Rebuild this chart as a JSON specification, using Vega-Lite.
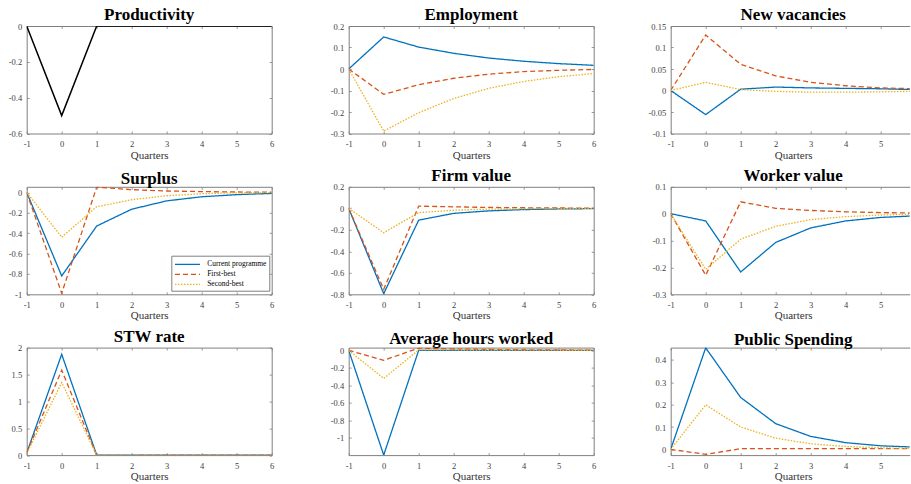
{
  "$schema": "https://vega.github.io/schema/vega-lite/v6.json",
  "padding": {"left": 7.7, "top": 6, "right": 0, "bottom": 0},
  "columns": 3,
  "spacing": {"row": 52.8, "column": 77},
  "bounds": "flush",
  "config": {
    "font": "Liberation Serif",
    "view": {"stroke": null},
    "axis": {
      "grid": false, "labelFlush": false, "labelOverlap": false,
      "domainColor": "#808080", "tickColor": "#808080", "tickSize": -2.5, "tickWidth": 0.8, "domainWidth": 1,
      "labelFont": "Liberation Serif", "labelFontSize": 8.5, "labelColor": "#404040",
      "titleFont": "Liberation Serif", "titleFontSize": 11, "titleFontWeight": "normal", "titleColor": "#333333"
    },
    "axisX": {"labelPadding": 8.5, "titleY": 24.5, "titleBaseline": "alphabetic", "titleX": 122.5},
    "axisY": {"labelPadding": 7.5},
    "title": {"font": "Liberation Serif", "fontSize": 17, "fontWeight": "bold", "color": "#000000", "baseline": "alphabetic", "offset": -2, "frame": "group", "anchor": "middle"}
  },
  "datasets": {
    "prod": [
      {"q": -1, "v": 0}, {"q": 0, "v": -0.5}, {"q": 1, "v": 0}, {"q": 2, "v": 0},
      {"q": 3, "v": 0}, {"q": 4, "v": 0}, {"q": 5, "v": 0}, {"q": 6, "v": 0}
    ],
    "irf": [
      {"p": "Employment", "q": -1, "Current programme": 0, "First-best": 0, "Second-best": 0},
      {"p": "Employment", "q": 0, "Current programme": 0.149, "First-best": -0.118, "Second-best": -0.289},
      {"p": "Employment", "q": 1, "Current programme": 0.102, "First-best": -0.073, "Second-best": -0.203},
      {"p": "Employment", "q": 2, "Current programme": 0.073, "First-best": -0.043, "Second-best": -0.137},
      {"p": "Employment", "q": 3, "Current programme": 0.051, "First-best": -0.024, "Second-best": -0.09},
      {"p": "Employment", "q": 4, "Current programme": 0.036, "First-best": -0.012, "Second-best": -0.058},
      {"p": "Employment", "q": 5, "Current programme": 0.025, "First-best": -0.006, "Second-best": -0.036},
      {"p": "Employment", "q": 6, "Current programme": 0.017, "First-best": -0.002, "Second-best": -0.021},

      {"p": "New vacancies", "q": -1, "Current programme": 0, "First-best": 0, "Second-best": 0},
      {"p": "New vacancies", "q": 0, "Current programme": -0.056, "First-best": 0.129, "Second-best": 0.019},
      {"p": "New vacancies", "q": 1, "Current programme": 0.003, "First-best": 0.061, "Second-best": 0.002},
      {"p": "New vacancies", "q": 2, "Current programme": 0.008, "First-best": 0.034, "Second-best": -0.002},
      {"p": "New vacancies", "q": 3, "Current programme": 0.006, "First-best": 0.019, "Second-best": -0.004},
      {"p": "New vacancies", "q": 4, "Current programme": 0.005, "First-best": 0.011, "Second-best": -0.004},
      {"p": "New vacancies", "q": 5, "Current programme": 0.004, "First-best": 0.006, "Second-best": -0.003},
      {"p": "New vacancies", "q": 6, "Current programme": 0.002, "First-best": 0.004, "Second-best": -0.002},

      {"p": "Surplus", "q": -1, "Current programme": 0, "First-best": 0, "Second-best": 0},
      {"p": "Surplus", "q": 0, "Current programme": -0.82, "First-best": -0.99, "Second-best": -0.44},
      {"p": "Surplus", "q": 1, "Current programme": -0.33, "First-best": 0.052, "Second-best": -0.141},
      {"p": "Surplus", "q": 2, "Current programme": -0.165, "First-best": 0.027, "Second-best": -0.072},
      {"p": "Surplus", "q": 3, "Current programme": -0.083, "First-best": 0.014, "Second-best": -0.033},
      {"p": "Surplus", "q": 4, "Current programme": -0.043, "First-best": 0.008, "Second-best": -0.013},
      {"p": "Surplus", "q": 5, "Current programme": -0.022, "First-best": 0.004, "Second-best": -0.004},
      {"p": "Surplus", "q": 6, "Current programme": -0.01, "First-best": 0.002, "Second-best": -0.001},

      {"p": "Firm value", "q": -1, "Current programme": 0, "First-best": 0, "Second-best": 0},
      {"p": "Firm value", "q": 0, "Current programme": -0.794, "First-best": -0.754, "Second-best": -0.228},
      {"p": "Firm value", "q": 1, "Current programme": -0.11, "First-best": 0.02, "Second-best": -0.04},
      {"p": "Firm value", "q": 2, "Current programme": -0.047, "First-best": 0.014, "Second-best": -0.018},
      {"p": "Firm value", "q": 3, "Current programme": -0.024, "First-best": 0.008, "Second-best": -0.008},
      {"p": "Firm value", "q": 4, "Current programme": -0.012, "First-best": 0.005, "Second-best": -0.004},
      {"p": "Firm value", "q": 5, "Current programme": -0.006, "First-best": 0.003, "Second-best": -0.002},
      {"p": "Firm value", "q": 6, "Current programme": -0.003, "First-best": 0.001, "Second-best": -0.001},

      {"p": "Worker value", "q": -1, "Current programme": 0, "First-best": 0, "Second-best": 0},
      {"p": "Worker value", "q": 0, "Current programme": -0.027, "First-best": -0.229, "Second-best": -0.207},
      {"p": "Worker value", "q": 1, "Current programme": -0.217, "First-best": 0.044, "Second-best": -0.095},
      {"p": "Worker value", "q": 2, "Current programme": -0.107, "First-best": 0.02, "Second-best": -0.047},
      {"p": "Worker value", "q": 3, "Current programme": -0.053, "First-best": 0.012, "Second-best": -0.022},
      {"p": "Worker value", "q": 4, "Current programme": -0.027, "First-best": 0.007, "Second-best": -0.011},
      {"p": "Worker value", "q": 5, "Current programme": -0.014, "First-best": 0.004, "Second-best": -0.005},
      {"p": "Worker value", "q": 6, "Current programme": -0.008, "First-best": 0.002, "Second-best": -0.002},

      {"p": "STW rate", "q": -1, "Current programme": 0.04, "First-best": 0.04, "Second-best": 0.03},
      {"p": "STW rate", "q": 0, "Current programme": 1.875, "First-best": 1.58, "Second-best": 1.35},
      {"p": "STW rate", "q": 1, "Current programme": 0, "First-best": -0.005, "Second-best": 0},
      {"p": "STW rate", "q": 2, "Current programme": 0, "First-best": -0.004, "Second-best": 0},
      {"p": "STW rate", "q": 3, "Current programme": 0, "First-best": 0, "Second-best": 0},
      {"p": "STW rate", "q": 4, "Current programme": 0, "First-best": 0, "Second-best": 0},
      {"p": "STW rate", "q": 5, "Current programme": 0, "First-best": 0, "Second-best": 0},
      {"p": "STW rate", "q": 6, "Current programme": 0, "First-best": 0, "Second-best": 0},

      {"p": "Average hours worked", "q": -1, "Current programme": 0, "First-best": 0, "Second-best": 0},
      {"p": "Average hours worked", "q": 0, "Current programme": -1.195, "First-best": -0.114, "Second-best": -0.32},
      {"p": "Average hours worked", "q": 1, "Current programme": 0, "First-best": 0.025, "Second-best": 0.005},
      {"p": "Average hours worked", "q": 2, "Current programme": 0, "First-best": 0.015, "Second-best": 0.004},
      {"p": "Average hours worked", "q": 3, "Current programme": 0, "First-best": 0.01, "Second-best": 0.003},
      {"p": "Average hours worked", "q": 4, "Current programme": 0, "First-best": 0.006, "Second-best": 0.002},
      {"p": "Average hours worked", "q": 5, "Current programme": 0, "First-best": 0.004, "Second-best": 0.001},
      {"p": "Average hours worked", "q": 6, "Current programme": 0, "First-best": 0.002, "Second-best": 0.001},

      {"p": "Public Spending", "q": -1, "Current programme": 0, "First-best": 0, "Second-best": 0},
      {"p": "Public Spending", "q": 0, "Current programme": 0.454, "First-best": -0.022, "Second-best": 0.199},
      {"p": "Public Spending", "q": 1, "Current programme": 0.232, "First-best": 0.003, "Second-best": 0.1},
      {"p": "Public Spending", "q": 2, "Current programme": 0.115, "First-best": 0.003, "Second-best": 0.05},
      {"p": "Public Spending", "q": 3, "Current programme": 0.058, "First-best": 0.003, "Second-best": 0.025},
      {"p": "Public Spending", "q": 4, "Current programme": 0.03, "First-best": 0.003, "Second-best": 0.013},
      {"p": "Public Spending", "q": 5, "Current programme": 0.016, "First-best": 0.003, "Second-best": 0.007},
      {"p": "Public Spending", "q": 6, "Current programme": 0.01, "First-best": 0.003, "Second-best": 0.004}
    ]
  },
  "concat": [
    {
      "width": 245, "height": 107.5,
      "title": "Productivity",
      "data": {"name": "prod"},
      "layer": [
        {"mark": {"type": "line", "clip": true, "strokeWidth": 1.5, "color": "#000000"},
         "encoding": {
           "x": {"field": "q", "type": "quantitative", "scale": {"domain": [-1, 6], "nice": false, "zero": false}, "axis": {"values": [-1, 0, 1, 2, 3, 4, 5, 6], "title": "Quarters", "labelExpr": "toString(datum.value)"}},
           "y": {"field": "v", "type": "quantitative", "scale": {"domain": [-0.6, 0], "nice": false, "zero": false}, "axis": {"values": [-0.6, -0.4, -0.2, 0], "title": null, "labelExpr": "toString(datum.value)"}}
         }},
        {"mark": {"type": "line", "opacity": 0},
         "encoding": {
           "x": {"field": "q", "type": "quantitative", "axis": {"orient": "top", "values": [-1, 0, 1, 2, 3, 4, 5, 6], "labels": false, "title": null}},
           "y": {"field": "v", "type": "quantitative", "axis": {"orient": "right", "values": [-0.6, -0.4, -0.2, 0], "labels": false, "title": null}}
         }}
      ],
      "resolve": {"axis": {"x": "independent", "y": "independent"}}
    },
    {
      "width": 245, "height": 107.5,
      "title": "Employment",
      "data": {"name": "irf"},
      "transform": [{"filter": "datum.p == 'Employment'"}, {"fold": ["Current programme", "First-best", "Second-best"], "as": ["series", "v"]}],
      "layer": [
        {"mark": {"type": "line", "clip": true, "strokeWidth": 1.3},
         "encoding": {
           "x": {"field": "q", "type": "quantitative", "scale": {"domain": [-1, 6], "nice": false, "zero": false}, "axis": {"values": [-1, 0, 1, 2, 3, 4, 5, 6], "title": "Quarters", "labelExpr": "toString(datum.value)"}},
           "y": {"field": "v", "type": "quantitative", "scale": {"domain": [-0.3, 0.2], "nice": false, "zero": false}, "axis": {"values": [-0.3, -0.2, -0.1, 0, 0.1, 0.2], "title": null, "labelExpr": "toString(datum.value)"}},
           "color": {"field": "series", "type": "nominal", "scale": {"domain": ["Current programme", "First-best", "Second-best"], "range": ["#0072BD", "#D95319", "#EDB120"]},
             "legend": {"title": null, "orient": "none", "legendX": 144.6, "legendY": 229.7, "symbolType": "M-2.5,0H2.5", "symbolSize": 100, "symbolOffset": 7.5, "symbolStrokeWidth": 1.3, "labelFont": "Liberation Serif", "labelFontSize": 7.5, "labelColor": "#000000", "strokeColor": "#808080", "fillColor": "#ffffff", "padding": 2.7, "rowPadding": -0.7, "labelOffset": 13.7}},
           "strokeDash": {"field": "series", "type": "nominal", "scale": {"domain": ["Current programme", "First-best", "Second-best"], "range": [[1, 0], [5, 3], [1.5, 1.5]]},
             "legend": {"title": null, "orient": "none", "legendX": 144.6, "legendY": 229.7, "symbolType": "M-2.5,0H2.5", "symbolSize": 100, "symbolOffset": 7.5, "symbolStrokeWidth": 1.3, "labelFont": "Liberation Serif", "labelFontSize": 7.5, "labelColor": "#000000", "strokeColor": "#808080", "fillColor": "#ffffff", "padding": 2.7, "rowPadding": -0.7, "labelOffset": 13.7}}
         }},
        {"mark": {"type": "line", "opacity": 0},
         "encoding": {
           "x": {"field": "q", "type": "quantitative", "axis": {"orient": "top", "values": [-1, 0, 1, 2, 3, 4, 5, 6], "labels": false, "title": null}},
           "y": {"field": "v", "type": "quantitative", "axis": {"orient": "right", "values": [-0.3, -0.2, -0.1, 0, 0.1, 0.2], "labels": false, "title": null}}
         }}
      ],
      "resolve": {"axis": {"x": "independent", "y": "independent"}}
    },
    {
      "width": 239, "height": 107.5,
      "title": {"text": "New vacancies", "dx": 3},
      "data": {"name": "irf"},
      "transform": [{"filter": "datum.p == 'New vacancies'"}, {"fold": ["Current programme", "First-best", "Second-best"], "as": ["series", "v"]}],
      "layer": [
        {"mark": {"type": "line", "clip": true, "strokeWidth": 1.3},
         "encoding": {
           "x": {"field": "q", "type": "quantitative", "scale": {"domain": [-1, 5.8286], "nice": false, "zero": false}, "axis": {"values": [-1, 0, 1, 2, 3, 4, 5], "title": "Quarters", "labelExpr": "toString(datum.value)"}},
           "y": {"field": "v", "type": "quantitative", "scale": {"domain": [-0.1, 0.15], "nice": false, "zero": false}, "axis": {"values": [-0.1, -0.05, 0, 0.05, 0.1, 0.15], "title": null, "labelExpr": "toString(datum.value)"}},
           "color": {"field": "series", "type": "nominal", "scale": {"domain": ["Current programme", "First-best", "Second-best"], "range": ["#0072BD", "#D95319", "#EDB120"]},
             "legend": {"title": null, "orient": "none", "legendX": 144.6, "legendY": 229.7, "symbolType": "M-2.5,0H2.5", "symbolSize": 100, "symbolOffset": 7.5, "symbolStrokeWidth": 1.3, "labelFont": "Liberation Serif", "labelFontSize": 7.5, "labelColor": "#000000", "strokeColor": "#808080", "fillColor": "#ffffff", "padding": 2.7, "rowPadding": -0.7, "labelOffset": 13.7}},
           "strokeDash": {"field": "series", "type": "nominal", "scale": {"domain": ["Current programme", "First-best", "Second-best"], "range": [[1, 0], [5, 3], [1.5, 1.5]]},
             "legend": {"title": null, "orient": "none", "legendX": 144.6, "legendY": 229.7, "symbolType": "M-2.5,0H2.5", "symbolSize": 100, "symbolOffset": 7.5, "symbolStrokeWidth": 1.3, "labelFont": "Liberation Serif", "labelFontSize": 7.5, "labelColor": "#000000", "strokeColor": "#808080", "fillColor": "#ffffff", "padding": 2.7, "rowPadding": -0.7, "labelOffset": 13.7}}
         }},
        {"mark": {"type": "line", "opacity": 0},
         "encoding": {
           "x": {"field": "q", "type": "quantitative", "axis": {"orient": "top", "values": [-1, 0, 1, 2, 3, 4, 5], "labels": false, "title": null}},
           "y": {"field": "v", "type": "quantitative", "axis": null}
         }}
      ],
      "resolve": {"axis": {"x": "independent", "y": "independent"}}
    },
    {
      "width": 245, "height": 107.5,
      "title": "Surplus",
      "data": {"name": "irf"},
      "transform": [{"filter": "datum.p == 'Surplus'"}, {"fold": ["Current programme", "First-best", "Second-best"], "as": ["series", "v"]}],
      "layer": [
        {"mark": {"type": "line", "clip": true, "strokeWidth": 1.3},
         "encoding": {
           "x": {"field": "q", "type": "quantitative", "scale": {"domain": [-1, 6], "nice": false, "zero": false}, "axis": {"values": [-1, 0, 1, 2, 3, 4, 5, 6], "title": "Quarters", "labelExpr": "toString(datum.value)"}},
           "y": {"field": "v", "type": "quantitative", "scale": {"domain": [-1, 0.055], "nice": false, "zero": false}, "axis": {"values": [-1, -0.8, -0.6, -0.4, -0.2, 0], "title": null, "labelExpr": "toString(datum.value)"}},
           "color": {"field": "series", "type": "nominal", "scale": {"domain": ["Current programme", "First-best", "Second-best"], "range": ["#0072BD", "#D95319", "#EDB120"]},
             "legend": {"title": null, "orient": "none", "legendX": 144.6, "legendY": 229.7, "symbolType": "M-2.5,0H2.5", "symbolSize": 100, "symbolOffset": 7.5, "symbolStrokeWidth": 1.3, "labelFont": "Liberation Serif", "labelFontSize": 7.5, "labelColor": "#000000", "strokeColor": "#808080", "fillColor": "#ffffff", "padding": 2.7, "rowPadding": -0.7, "labelOffset": 13.7}},
           "strokeDash": {"field": "series", "type": "nominal", "scale": {"domain": ["Current programme", "First-best", "Second-best"], "range": [[1, 0], [5, 3], [1.5, 1.5]]},
             "legend": {"title": null, "orient": "none", "legendX": 144.6, "legendY": 229.7, "symbolType": "M-2.5,0H2.5", "symbolSize": 100, "symbolOffset": 7.5, "symbolStrokeWidth": 1.3, "labelFont": "Liberation Serif", "labelFontSize": 7.5, "labelColor": "#000000", "strokeColor": "#808080", "fillColor": "#ffffff", "padding": 2.7, "rowPadding": -0.7, "labelOffset": 13.7}}
         }},
        {"mark": {"type": "line", "opacity": 0},
         "encoding": {
           "x": {"field": "q", "type": "quantitative", "axis": {"orient": "top", "values": [-1, 0, 1, 2, 3, 4, 5, 6], "labels": false, "title": null}},
           "y": {"field": "v", "type": "quantitative", "axis": {"orient": "right", "values": [-1, -0.8, -0.6, -0.4, -0.2, 0], "labels": false, "title": null}}
         }}
      ],
      "resolve": {"axis": {"x": "independent", "y": "independent"}}
    },
    {
      "width": 245, "height": 107.5,
      "title": "Firm value",
      "data": {"name": "irf"},
      "transform": [{"filter": "datum.p == 'Firm value'"}, {"fold": ["Current programme", "First-best", "Second-best"], "as": ["series", "v"]}],
      "layer": [
        {"mark": {"type": "line", "clip": true, "strokeWidth": 1.3},
         "encoding": {
           "x": {"field": "q", "type": "quantitative", "scale": {"domain": [-1, 6], "nice": false, "zero": false}, "axis": {"values": [-1, 0, 1, 2, 3, 4, 5, 6], "title": "Quarters", "labelExpr": "toString(datum.value)"}},
           "y": {"field": "v", "type": "quantitative", "scale": {"domain": [-0.8, 0.2], "nice": false, "zero": false}, "axis": {"values": [-0.8, -0.6, -0.4, -0.2, 0, 0.2], "title": null, "labelExpr": "toString(datum.value)"}},
           "color": {"field": "series", "type": "nominal", "scale": {"domain": ["Current programme", "First-best", "Second-best"], "range": ["#0072BD", "#D95319", "#EDB120"]},
             "legend": {"title": null, "orient": "none", "legendX": 144.6, "legendY": 229.7, "symbolType": "M-2.5,0H2.5", "symbolSize": 100, "symbolOffset": 7.5, "symbolStrokeWidth": 1.3, "labelFont": "Liberation Serif", "labelFontSize": 7.5, "labelColor": "#000000", "strokeColor": "#808080", "fillColor": "#ffffff", "padding": 2.7, "rowPadding": -0.7, "labelOffset": 13.7}},
           "strokeDash": {"field": "series", "type": "nominal", "scale": {"domain": ["Current programme", "First-best", "Second-best"], "range": [[1, 0], [5, 3], [1.5, 1.5]]},
             "legend": {"title": null, "orient": "none", "legendX": 144.6, "legendY": 229.7, "symbolType": "M-2.5,0H2.5", "symbolSize": 100, "symbolOffset": 7.5, "symbolStrokeWidth": 1.3, "labelFont": "Liberation Serif", "labelFontSize": 7.5, "labelColor": "#000000", "strokeColor": "#808080", "fillColor": "#ffffff", "padding": 2.7, "rowPadding": -0.7, "labelOffset": 13.7}}
         }},
        {"mark": {"type": "line", "opacity": 0},
         "encoding": {
           "x": {"field": "q", "type": "quantitative", "axis": {"orient": "top", "values": [-1, 0, 1, 2, 3, 4, 5, 6], "labels": false, "title": null}},
           "y": {"field": "v", "type": "quantitative", "axis": {"orient": "right", "values": [-0.8, -0.6, -0.4, -0.2, 0, 0.2], "labels": false, "title": null}}
         }}
      ],
      "resolve": {"axis": {"x": "independent", "y": "independent"}}
    },
    {
      "width": 239, "height": 107.5,
      "title": {"text": "Worker value", "dx": 3},
      "data": {"name": "irf"},
      "transform": [{"filter": "datum.p == 'Worker value'"}, {"fold": ["Current programme", "First-best", "Second-best"], "as": ["series", "v"]}],
      "layer": [
        {"mark": {"type": "line", "clip": true, "strokeWidth": 1.3},
         "encoding": {
           "x": {"field": "q", "type": "quantitative", "scale": {"domain": [-1, 5.8286], "nice": false, "zero": false}, "axis": {"values": [-1, 0, 1, 2, 3, 4, 5], "title": "Quarters", "labelExpr": "toString(datum.value)"}},
           "y": {"field": "v", "type": "quantitative", "scale": {"domain": [-0.3, 0.1], "nice": false, "zero": false}, "axis": {"values": [-0.3, -0.2, -0.1, 0, 0.1], "title": null, "labelExpr": "toString(datum.value)"}},
           "color": {"field": "series", "type": "nominal", "scale": {"domain": ["Current programme", "First-best", "Second-best"], "range": ["#0072BD", "#D95319", "#EDB120"]},
             "legend": {"title": null, "orient": "none", "legendX": 144.6, "legendY": 229.7, "symbolType": "M-2.5,0H2.5", "symbolSize": 100, "symbolOffset": 7.5, "symbolStrokeWidth": 1.3, "labelFont": "Liberation Serif", "labelFontSize": 7.5, "labelColor": "#000000", "strokeColor": "#808080", "fillColor": "#ffffff", "padding": 2.7, "rowPadding": -0.7, "labelOffset": 13.7}},
           "strokeDash": {"field": "series", "type": "nominal", "scale": {"domain": ["Current programme", "First-best", "Second-best"], "range": [[1, 0], [5, 3], [1.5, 1.5]]},
             "legend": {"title": null, "orient": "none", "legendX": 144.6, "legendY": 229.7, "symbolType": "M-2.5,0H2.5", "symbolSize": 100, "symbolOffset": 7.5, "symbolStrokeWidth": 1.3, "labelFont": "Liberation Serif", "labelFontSize": 7.5, "labelColor": "#000000", "strokeColor": "#808080", "fillColor": "#ffffff", "padding": 2.7, "rowPadding": -0.7, "labelOffset": 13.7}}
         }},
        {"mark": {"type": "line", "opacity": 0},
         "encoding": {
           "x": {"field": "q", "type": "quantitative", "axis": {"orient": "top", "values": [-1, 0, 1, 2, 3, 4, 5], "labels": false, "title": null}},
           "y": {"field": "v", "type": "quantitative", "axis": null}
         }}
      ],
      "resolve": {"axis": {"x": "independent", "y": "independent"}}
    },
    {
      "width": 245, "height": 107.5,
      "title": "STW rate",
      "data": {"name": "irf"},
      "transform": [{"filter": "datum.p == 'STW rate'"}, {"fold": ["Current programme", "First-best", "Second-best"], "as": ["series", "v"]}],
      "layer": [
        {"mark": {"type": "line", "clip": true, "strokeWidth": 1.3},
         "encoding": {
           "x": {"field": "q", "type": "quantitative", "scale": {"domain": [-1, 6], "nice": false, "zero": false}, "axis": {"values": [-1, 0, 1, 2, 3, 4, 5, 6], "title": "Quarters", "labelExpr": "toString(datum.value)"}},
           "y": {"field": "v", "type": "quantitative", "scale": {"domain": [0, 2], "nice": false, "zero": false}, "axis": {"values": [0, 0.5, 1, 1.5, 2], "title": null, "labelExpr": "toString(datum.value)"}},
           "color": {"field": "series", "type": "nominal", "scale": {"domain": ["Current programme", "First-best", "Second-best"], "range": ["#0072BD", "#D95319", "#EDB120"]},
             "legend": {"title": null, "orient": "none", "legendX": 144.6, "legendY": 229.7, "symbolType": "M-2.5,0H2.5", "symbolSize": 100, "symbolOffset": 7.5, "symbolStrokeWidth": 1.3, "labelFont": "Liberation Serif", "labelFontSize": 7.5, "labelColor": "#000000", "strokeColor": "#808080", "fillColor": "#ffffff", "padding": 2.7, "rowPadding": -0.7, "labelOffset": 13.7}},
           "strokeDash": {"field": "series", "type": "nominal", "scale": {"domain": ["Current programme", "First-best", "Second-best"], "range": [[1, 0], [5, 3], [1.5, 1.5]]},
             "legend": {"title": null, "orient": "none", "legendX": 144.6, "legendY": 229.7, "symbolType": "M-2.5,0H2.5", "symbolSize": 100, "symbolOffset": 7.5, "symbolStrokeWidth": 1.3, "labelFont": "Liberation Serif", "labelFontSize": 7.5, "labelColor": "#000000", "strokeColor": "#808080", "fillColor": "#ffffff", "padding": 2.7, "rowPadding": -0.7, "labelOffset": 13.7}}
         }},
        {"mark": {"type": "line", "opacity": 0},
         "encoding": {
           "x": {"field": "q", "type": "quantitative", "axis": {"orient": "top", "values": [-1, 0, 1, 2, 3, 4, 5, 6], "labels": false, "title": null}},
           "y": {"field": "v", "type": "quantitative", "axis": {"orient": "right", "values": [0, 0.5, 1, 1.5, 2], "labels": false, "title": null}}
         }}
      ],
      "resolve": {"axis": {"x": "independent", "y": "independent"}}
    },
    {
      "width": 245, "height": 107.5,
      "title": "Average hours worked",
      "data": {"name": "irf"},
      "transform": [{"filter": "datum.p == 'Average hours worked'"}, {"fold": ["Current programme", "First-best", "Second-best"], "as": ["series", "v"]}],
      "layer": [
        {"mark": {"type": "line", "clip": true, "strokeWidth": 1.3},
         "encoding": {
           "x": {"field": "q", "type": "quantitative", "scale": {"domain": [-1, 6], "nice": false, "zero": false}, "axis": {"values": [-1, 0, 1, 2, 3, 4, 5, 6], "title": "Quarters", "labelExpr": "toString(datum.value)"}},
           "y": {"field": "v", "type": "quantitative", "scale": {"domain": [-1.195, 0.031], "nice": false, "zero": false}, "axis": {"values": [-1, -0.8, -0.6, -0.4, -0.2, 0], "title": null, "labelExpr": "toString(datum.value)"}},
           "color": {"field": "series", "type": "nominal", "scale": {"domain": ["Current programme", "First-best", "Second-best"], "range": ["#0072BD", "#D95319", "#EDB120"]},
             "legend": {"title": null, "orient": "none", "legendX": 144.6, "legendY": 229.7, "symbolType": "M-2.5,0H2.5", "symbolSize": 100, "symbolOffset": 7.5, "symbolStrokeWidth": 1.3, "labelFont": "Liberation Serif", "labelFontSize": 7.5, "labelColor": "#000000", "strokeColor": "#808080", "fillColor": "#ffffff", "padding": 2.7, "rowPadding": -0.7, "labelOffset": 13.7}},
           "strokeDash": {"field": "series", "type": "nominal", "scale": {"domain": ["Current programme", "First-best", "Second-best"], "range": [[1, 0], [5, 3], [1.5, 1.5]]},
             "legend": {"title": null, "orient": "none", "legendX": 144.6, "legendY": 229.7, "symbolType": "M-2.5,0H2.5", "symbolSize": 100, "symbolOffset": 7.5, "symbolStrokeWidth": 1.3, "labelFont": "Liberation Serif", "labelFontSize": 7.5, "labelColor": "#000000", "strokeColor": "#808080", "fillColor": "#ffffff", "padding": 2.7, "rowPadding": -0.7, "labelOffset": 13.7}}
         }},
        {"mark": {"type": "line", "opacity": 0},
         "encoding": {
           "x": {"field": "q", "type": "quantitative", "axis": {"orient": "top", "values": [-1, 0, 1, 2, 3, 4, 5, 6], "labels": false, "title": null}},
           "y": {"field": "v", "type": "quantitative", "axis": {"orient": "right", "values": [-1, -0.8, -0.6, -0.4, -0.2, 0], "labels": false, "title": null}}
         }}
      ],
      "resolve": {"axis": {"x": "independent", "y": "independent"}}
    },
    {
      "width": 239, "height": 107.5,
      "title": {"text": "Public Spending", "dx": 3},
      "data": {"name": "irf"},
      "transform": [{"filter": "datum.p == 'Public Spending'"}, {"fold": ["Current programme", "First-best", "Second-best"], "as": ["series", "v"]}],
      "layer": [
        {"mark": {"type": "line", "clip": true, "strokeWidth": 1.3},
         "encoding": {
           "x": {"field": "q", "type": "quantitative", "scale": {"domain": [-1, 5.8286], "nice": false, "zero": false}, "axis": {"values": [-1, 0, 1, 2, 3, 4, 5], "title": "Quarters", "labelExpr": "toString(datum.value)"}},
           "y": {"field": "v", "type": "quantitative", "scale": {"domain": [-0.0256, 0.455], "nice": false, "zero": false}, "axis": {"values": [0, 0.1, 0.2, 0.3, 0.4], "title": null, "labelExpr": "toString(datum.value)"}},
           "color": {"field": "series", "type": "nominal", "scale": {"domain": ["Current programme", "First-best", "Second-best"], "range": ["#0072BD", "#D95319", "#EDB120"]},
             "legend": {"title": null, "orient": "none", "legendX": 144.6, "legendY": 229.7, "symbolType": "M-2.5,0H2.5", "symbolSize": 100, "symbolOffset": 7.5, "symbolStrokeWidth": 1.3, "labelFont": "Liberation Serif", "labelFontSize": 7.5, "labelColor": "#000000", "strokeColor": "#808080", "fillColor": "#ffffff", "padding": 2.7, "rowPadding": -0.7, "labelOffset": 13.7}},
           "strokeDash": {"field": "series", "type": "nominal", "scale": {"domain": ["Current programme", "First-best", "Second-best"], "range": [[1, 0], [5, 3], [1.5, 1.5]]},
             "legend": {"title": null, "orient": "none", "legendX": 144.6, "legendY": 229.7, "symbolType": "M-2.5,0H2.5", "symbolSize": 100, "symbolOffset": 7.5, "symbolStrokeWidth": 1.3, "labelFont": "Liberation Serif", "labelFontSize": 7.5, "labelColor": "#000000", "strokeColor": "#808080", "fillColor": "#ffffff", "padding": 2.7, "rowPadding": -0.7, "labelOffset": 13.7}}
         }},
        {"mark": {"type": "line", "opacity": 0},
         "encoding": {
           "x": {"field": "q", "type": "quantitative", "axis": {"orient": "top", "values": [-1, 0, 1, 2, 3, 4, 5], "labels": false, "title": null}},
           "y": {"field": "v", "type": "quantitative", "axis": null}
         }}
      ],
      "resolve": {"axis": {"x": "independent", "y": "independent"}}
    }
  ]
}
